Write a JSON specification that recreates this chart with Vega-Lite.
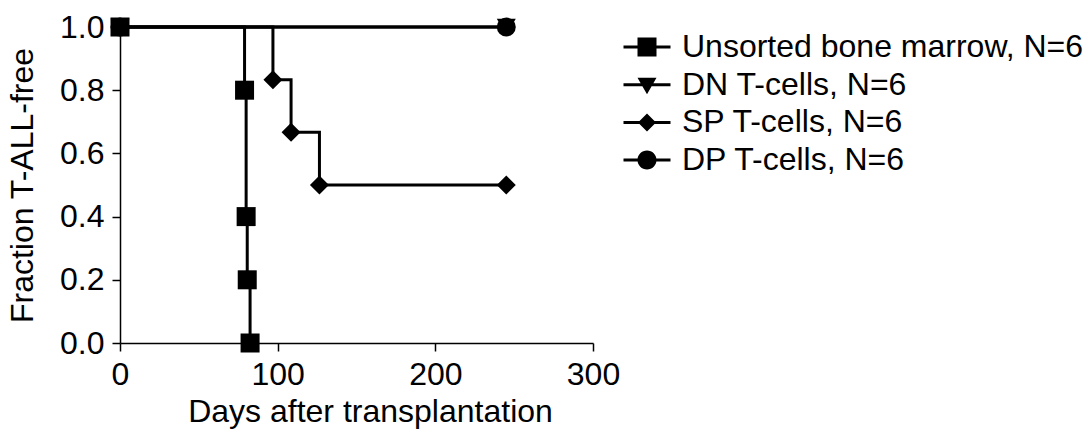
{
  "$schema": "https://vega.github.io/schema/vega-lite/v6.json",
  "width": 473,
  "height": 316,
  "autosize": {"type": "none"},
  "padding": {"left": 120, "top": 27, "right": 494, "bottom": 89},
  "background": "white",
  "config": {
    "font": "Liberation Sans",
    "view": {"stroke": null},
    "axis": {
      "grid": false,
      "domainColor": "black",
      "domainWidth": 1.5,
      "tickColor": "black",
      "tickWidth": 1.5,
      "tickSize": 8,
      "labelFontSize": 32,
      "labelColor": "black",
      "labelFlush": false,
      "labelPadding": 8,
      "titleFontSize": 32,
      "titleFontWeight": "normal",
      "titleColor": "black"
    }
  },
  "data": {
    "values": [
      {"group": "DN T-cells, N=6", "day": 0, "frac": 1.0},
      {"group": "DN T-cells, N=6", "day": 245, "frac": 1.0},
      {"group": "SP T-cells, N=6", "day": 0, "frac": 1.0},
      {"group": "SP T-cells, N=6", "day": 97, "frac": 0.833},
      {"group": "SP T-cells, N=6", "day": 108.5, "frac": 0.667},
      {"group": "SP T-cells, N=6", "day": 126.5, "frac": 0.5},
      {"group": "SP T-cells, N=6", "day": 245, "frac": 0.5},
      {"group": "DP T-cells, N=6", "day": 0, "frac": 1.0},
      {"group": "DP T-cells, N=6", "day": 245, "frac": 1.0},
      {"group": "Unsorted bone marrow, N=6", "day": 0, "frac": 1.0},
      {"group": "Unsorted bone marrow, N=6", "day": 79, "frac": 0.8},
      {"group": "Unsorted bone marrow, N=6", "day": 80, "frac": 0.4},
      {"group": "Unsorted bone marrow, N=6", "day": 80.7, "frac": 0.2},
      {"group": "Unsorted bone marrow, N=6", "day": 82.5, "frac": 0.0}
    ]
  },
  "layer": [
    {
      "mark": {"type": "line", "interpolate": "step-after", "color": "black", "strokeWidth": 3},
      "encoding": {
        "x": {
          "field": "day", "type": "quantitative",
          "scale": {"domain": [0, 300], "nice": false, "zero": false},
          "axis": {"values": [0, 100, 200, 300], "title": "Days after transplantation", "titlePadding": 6, "titleX": 250}
        },
        "y": {
          "field": "frac", "type": "quantitative",
          "scale": {"domain": [0, 1], "nice": false},
          "axis": {"values": [0, 0.2, 0.4, 0.6, 0.8, 1.0], "format": ".1f", "title": "Fraction T-ALL-free", "titlePadding": 20}
        },
        "detail": {"field": "group"}
      }
    },
    {
      "transform": [{"filter": "datum.group == 'DN T-cells, N=6'"}],
      "mark": {"type": "point", "filled": true, "color": "black", "opacity": 1, "size": 361, "shape": "triangle-down"},
      "encoding": {
        "x": {"field": "day", "type": "quantitative"},
        "y": {"field": "frac", "type": "quantitative"}
      }
    },
    {
      "transform": [{"filter": "datum.group == 'SP T-cells, N=6'"}],
      "mark": {"type": "point", "filled": true, "color": "black", "opacity": 1, "size": 361, "shape": "diamond"},
      "encoding": {
        "x": {"field": "day", "type": "quantitative"},
        "y": {"field": "frac", "type": "quantitative"}
      }
    },
    {
      "transform": [{"filter": "datum.group == 'DP T-cells, N=6'"}],
      "mark": {"type": "point", "filled": true, "color": "black", "opacity": 1, "size": 361, "shape": "circle"},
      "encoding": {
        "x": {"field": "day", "type": "quantitative"},
        "y": {"field": "frac", "type": "quantitative"}
      }
    },
    {
      "transform": [{"filter": "datum.group == 'Unsorted bone marrow, N=6'"}],
      "mark": {"type": "point", "filled": true, "color": "black", "opacity": 1, "size": 361, "shape": "square"},
      "encoding": {
        "x": {"field": "day", "type": "quantitative"},
        "y": {"field": "frac", "type": "quantitative"}
      }
    },
    {
      "transform": [{"filter": "datum.day < 0"}],
      "mark": {"type": "point", "filled": true, "color": "black", "opacity": 1},
      "encoding": {
        "x": {"field": "day", "type": "quantitative"},
        "y": {"field": "frac", "type": "quantitative"},
        "shape": {
          "field": "group",
          "scale": {
            "domain": ["Unsorted bone marrow, N=6", "DN T-cells, N=6", "SP T-cells, N=6", "DP T-cells, N=6"],
            "range": [
              "M-2.35,-0.15L2.35,-0.15L2.35,0.15L-2.35,0.15ZM-0.95,-0.95L0.95,-0.95L0.95,0.95L-0.95,0.95Z",
              "M-2.35,-0.15L2.35,-0.15L2.35,0.15L-2.35,0.15ZM-0.95,-0.7L0.95,-0.7L0,0.95Z",
              "M-2.35,-0.15L2.35,-0.15L2.35,0.15L-2.35,0.15ZM0,-0.9L0.9,0L0,0.9L-0.9,0Z",
              "M-2.35,-0.15L2.35,-0.15L2.35,0.15L-2.35,0.15ZM-0.95,0A0.95,0.95,0,1,1,0.95,0A0.95,0.95,0,1,1,-0.95,0Z"
            ]
          },
          "legend": {
            "title": null,
            "orient": "none",
            "legendX": 511,
            "legendY": 4,
            "padding": 0,
            "symbolSize": 400,
            "symbolFillColor": "black",
            "symbolStrokeWidth": 0,
            "symbolOpacity": 1,
            "labelFontSize": 32,
            "labelColor": "black",
            "labelFont": "Liberation Sans",
            "labelOffset": 19,
            "labelLimit": 0,
            "rowPadding": 5.7
          }
        }
      }
    }
  ]
}
